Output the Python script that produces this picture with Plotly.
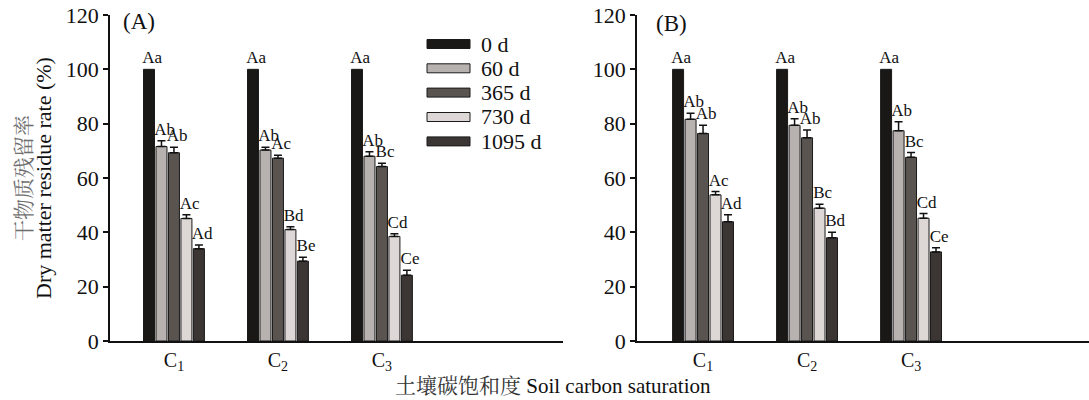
import plotly.graph_objects as go

# ---------------- data ----------------
categories = [1, 2, 3]
category_labels = ["C<sub>1</sub>", "C<sub>2</sub>", "C<sub>3</sub>"]
series_names = ["0 d", "60 d", "365 d", "730 d", "1095 d"]
series_colors = ["#1a1816", "#b7b1af", "#5a5451", "#ddd8d6", "#3b3533"]

# Panel A values / errors (per series, per C1..C3)
A_vals = [
    [100, 100, 100],
    [71.6, 70.3, 68.0],
    [69.3, 67.3, 64.2],
    [45.1, 41.0, 38.5],
    [34.0, 29.4, 24.2],
]
A_errs = [
    [0, 0, 0],
    [2.1, 1.0, 1.7],
    [2.0, 1.1, 1.2],
    [1.4, 1.1, 1.0],
    [1.3, 1.4, 1.8],
]
A_letters = [
    ["Aa", "Aa", "Aa"],
    ["Ab", "Ab", "Ab"],
    ["Ab", "Ac", "Bc"],
    ["Ac", "Bd", "Cd"],
    ["Ad", "Be", "Ce"],
]

# Panel B values / errors
B_vals = [
    [100, 100, 100],
    [81.6, 79.4, 77.4],
    [76.4, 74.8, 67.6],
    [53.8, 48.9, 45.2],
    [43.9, 38.0, 32.8],
]
B_errs = [
    [0, 0, 0],
    [2.2, 2.4, 3.3],
    [3.0, 2.9, 1.8],
    [1.2, 1.4, 1.7],
    [2.6, 2.0, 1.5],
]
B_letters = [
    ["Aa", "Aa", "Aa"],
    ["Ab", "Ab", "Ab"],
    ["Ab", "Ab", "Bc"],
    ["Ac", "Bc", "Cd"],
    ["Ad", "Bd", "Ce"],
]

y_ticks = [0, 20, 40, 60, 80, 100, 120]

# ---------------- figure ----------------
W, H = 1089, 400
TOP, BOT = 15, 341          # pixel rows of y=120 and y=0
FONT = "Times New Roman, Liberation Serif, serif"
CJK = "Noto Serif CJK SC, Noto Sans CJK SC, serif"
BARGAP, GROUPGAP = 0.40, 0.12
NS = len(series_names)
slot = (1 - BARGAP) / NS

fig = go.Figure()

panels = [
    ("x", "y", A_vals, A_errs, A_letters),
    ("x2", "y2", B_vals, B_errs, B_letters),
]

for xa, ya, vals, errs, letters in panels:
    for j, name in enumerate(series_names):
        fig.add_trace(go.Bar(
            x=categories, y=vals[j], name=name, xaxis=xa, yaxis=ya,
            marker=dict(color=series_colors[j], line=dict(color="#1a1a1a", width=1)),
            error_y=dict(type="data", array=errs[j], arrayminus=[0] * len(errs[j]),
                         symmetric=False, visible=any(e > 0 for e in errs[j]),
                         color="#111111", thickness=1.5, width=4),
            showlegend=False,
        ))
    # letter labels above the bars / error bars
    for j in range(NS):
        off = (j - (NS - 1) / 2) * slot + 0.03
        fig.add_trace(go.Scatter(
            x=[c + off for c in categories],
            y=[v + e + 0.6 for v, e in zip(vals[j], errs[j])],
            text=letters[j], mode="text", textposition="top center",
            textfont=dict(family=FONT, size=17, color="#111111"),
            xaxis=xa, yaxis=ya, showlegend=False, cliponaxis=False, hoverinfo="skip",
        ))

def px_x(p):
    return p / W

def px_y(p):
    return (BOT - p) / (BOT - TOP)

axis_common = dict(showline=True, linecolor="#111111", linewidth=1.5, showgrid=False,
                   zeroline=False)
yfont = dict(family=FONT, size=22, color="#111111")
xfont = dict(family=FONT, size=20, color="#111111")

fig.update_layout(
    width=W, height=H,
    margin=dict(l=0, r=0, t=TOP, b=H - BOT),
    paper_bgcolor="white", plot_bgcolor="white",
    barmode="group", bargap=BARGAP, bargroupgap=GROUPGAP,
    showlegend=False,
    xaxis=dict(domain=[px_x(110), px_x(563)], range=[0.385, 4.741], anchor="y",
               tickvals=categories, ticktext=category_labels, ticks="", tickfont=xfont,
               **axis_common),
    yaxis=dict(domain=[0, 1], range=[0, 120], anchor="x", tickvals=y_ticks, tickfont=yfont,
               ticks="outside", ticklen=5, tickwidth=1.5, tickcolor="#111111", **axis_common),
    xaxis2=dict(domain=[px_x(637), 1.0], range=[0.365, 4.711], anchor="y2",
                tickvals=categories, ticktext=category_labels, ticks="", tickfont=xfont,
                **axis_common),
    yaxis2=dict(domain=[0, 1], range=[0, 120], anchor="x2", tickvals=y_ticks, tickfont=yfont,
                ticks="outside", ticklen=5, tickwidth=1.5, tickcolor="#111111", **axis_common),
)

annotations = []
# panel labels
annotations.append(dict(text="(A)", xref="paper", yref="paper", x=px_x(121), y=px_y(22),
                        xanchor="left", yanchor="middle", showarrow=False,
                        font=dict(family=FONT, size=23, color="#111111")))
annotations.append(dict(text="(B)", xref="paper", yref="paper", x=px_x(654), y=px_y(24),
                        xanchor="left", yanchor="middle", showarrow=False,
                        font=dict(family=FONT, size=23, color="#111111")))
# y axis title (two lines)
annotations.append(dict(text="干物质残留率", xref="paper", yref="paper", x=px_x(22), y=0.5,
                        xanchor="center", yanchor="middle", textangle=-90, showarrow=False,
                        font=dict(family=CJK, size=21, color="#6e6e6e")))
annotations.append(dict(text="Dry matter residue rate (%)", xref="paper", yref="paper",
                        x=px_x(43), y=0.5, xanchor="center", yanchor="middle", textangle=-90,
                        showarrow=False, font=dict(family=FONT, size=22, color="#111111")))
# x axis title
annotations.append(dict(text="<span style='font-family:\"Noto Serif CJK SC\",\"Noto Sans CJK SC\";color:#333333'>土壤碳饱和度</span> Soil carbon saturation",
                        xref="paper", yref="paper", x=px_x(553), y=px_y(384),
                        xanchor="center", yanchor="middle", showarrow=False,
                        font=dict(family=FONT, size=21, color="#111111")))

# custom legend with wide swatches
shapes = []
leg_centers = [44, 68.3, 92.6, 117, 141.4]
for j, name in enumerate(series_names):
    cy = leg_centers[j]
    shapes.append(dict(type="rect", xref="paper", yref="paper",
                       x0=px_x(427), x1=px_x(470), y0=px_y(cy + 4.5), y1=px_y(cy - 4.5),
                       fillcolor=series_colors[j], line=dict(color="#1a1a1a", width=1)))
    annotations.append(dict(text=name, xref="paper", yref="paper", x=px_x(479), y=px_y(cy),
                            xanchor="left", yanchor="middle", showarrow=False,
                            font=dict(family=FONT, size=22, color="#111111")))

fig.update_layout(annotations=annotations, shapes=shapes)

fig.write_html("out.html")
